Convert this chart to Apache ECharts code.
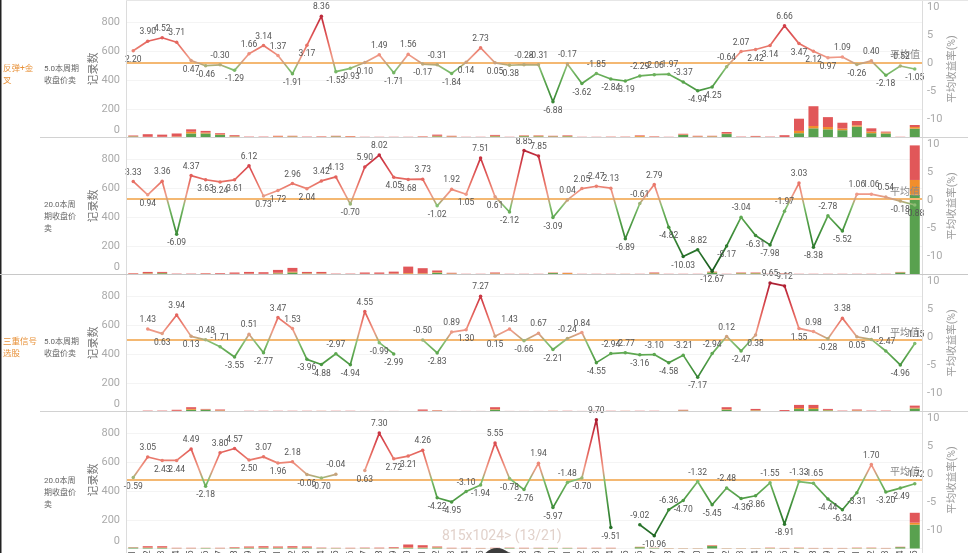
<!DOCTYPE html>
<html><head><meta charset="utf-8">
<script src="https://cdn.jsdelivr.net/npm/echarts@6/dist/echarts.min.js"></script>
<style>html,body{margin:0;padding:0;background:#fff}#c{width:968px;height:553px}</style>
</head><body><div id="c"></div>
<script>
const categories = ['W01','W02','W03','W04','W05','W06','W07','W08','W09','W10','W11','W12','W13','W14','W15','W16','W17','W18','W19','W20','W21','W22','W23','W24','W25','W26','W27','W28','W29','W30','W31','W32','W33','W34','W35','W36','W37','W38','W39','W40','W41','W42','W43','W44','W45','W46','W47','W48','W49','W50','W51','W52','W53','W54','W55'];

const groupLabels = ['反弹+金\n叉', '三重信号\n选股'];
const rowLabels = ['5.0本周期\n收盘价卖', '20.0本周\n期收盘价\n卖', '5.0本周期\n收盘价卖', '20.0本周\n期收盘价\n卖'];
const leftTicks = [0, 200, 400, 600, 800];
const rightTicks = [-10, -5, 0, 5, 10];

const ret1 = [2.20,3.90,4.52,3.71,0.47,-0.46,-0.30,-1.29,1.66,3.14, 1.37,-1.91,3.17,8.36,-1.53,-0.93,0.10,1.49,-1.71,1.56, -0.17,-0.31,-1.84,0.14,2.73,0.05,-0.38,-0.28,-0.31,-6.88, -0.17,-3.62,-1.85,-2.84,-3.19,-2.29,-2.06,-1.97,-3.37,-4.94, -4.25,-0.64,2.07,2.42,3.14,6.66,3.47,2.12,0.97,1.09, -0.26,0.40,-2.18,-0.52,-1.05];
const ret2 = [3.33,0.94,3.36,-6.09,4.37,3.63,3.24,3.61,6.12,0.73, 1.72,2.96,2.04,3.42,4.13,-0.70,5.90,8.02,4.05,3.68, 3.73,-1.02,1.92,1.05,7.51,0.61,-2.12,8.85,7.85,-3.09, 0.04,2.05,2.47,2.13,-6.89,-0.61,2.79,-4.82,-10.03,-8.82, -12.67,-8.17,-3.04,-6.31,-7.98,-1.97,3.03,-8.38,-2.78,-5.52, 1.06,1.06,0.54,-0.18,-0.88];
const ret3 = [null,1.43,0.63,3.94,0.13,-0.48,-1.71,-3.55,0.51,-2.77, 3.47,1.53,-3.96,-4.88,-2.97,-4.94,4.55,-0.99,-2.99,null, -0.50,-2.83,0.89,1.30,7.27,0.15,1.43,-0.66,0.67,-2.21, -0.24,0.84,-4.55,-2.94,-2.77,-3.16,-3.10,-4.58,-3.21,-7.17, -2.94,0.12,-2.47,0.38,9.65,9.12,1.55,0.98,-0.28,3.38, 0.05,-0.41,-2.47,-4.96,-1.15];
const ret4 = [-0.59,3.05,2.43,2.44,4.49,-2.18,3.80,4.57,2.50,3.07, 1.96,2.18,-0.06,-0.70,-0.04,null,0.63,7.30,2.72,3.21, 4.26,-4.22,-4.95,-3.10,-1.94,5.55,-0.78,-2.76,1.94,-5.97, -1.48,-0.70,9.70,-9.51,null,-9.02,-10.96,-6.36,-4.70,-1.32, -5.45,-2.48,-4.36,-3.86,-1.55,-8.91,-1.33,-1.65,-4.44,-6.34, -3.31,1.70,-3.20,-2.49,-1.72];

const green1 = [7,3,3,4,28,28,18,6,1,1, 4,6,1,3,7,3,1,1,1,1, 2,8,5,1,1,8,1,9,8,7, 8,1,2,3,2,5,3,1,18,5, 6,24,1,4,1,2,30,64,57,51, 76,30,28,1,62];
const orange1 = [2,2,2,3,12,6,4,3,1,1, 4,3,1,2,2,4,1,1,1,1, 3,4,3,1,1,4,1,3,4,2, 3,2,1,1,2,6,2,1,3,3, 3,4,1,2,1,2,16,16,16,11, 9,11,7,1,11];
const red1 = [5,18,15,21,17,12,8,7,4,4, 4,3,4,3,3,3,3,3,3,3, 3,8,4,3,3,6,3,3,3,3, 4,2,2,2,2,4,3,3,5,4, 3,10,4,5,4,12,85,138,69,41, 30,23,6,3,14];

const green2 = [2,6,9,1,1,3,2,3,4,3, 8,14,6,5,1,2,3,3,4,5, 5,12,5,1,1,5,1,1,1,10, 4,1,1,2,3,1,6,2,2,2, 14,2,8,8,2,3,1,2,2,2, 1,2,1,14,556];
const orange2 = [3,3,2,1,1,2,2,2,2,2, 4,5,3,3,1,1,2,2,3,5, 4,4,3,1,1,3,1,1,1,2, 6,1,1,1,1,1,3,1,1,1, 3,1,3,3,1,2,1,1,1,1, 1,1,1,2,103];
const red2 = [4,9,7,4,4,4,5,9,12,11, 20,27,9,10,4,3,9,9,13,45, 35,12,4,3,3,6,3,3,3,2, 2,3,3,2,1,3,5,2,2,2, 3,2,3,3,2,3,3,2,2,2, 3,2,3,2,241];

const green3 = [0,1,1,3,12,12,5,0,1,1, 1,1,1,3,2,2,1,1,1,0, 3,4,1,1,1,12,1,1,1,3, 2,1,2,2,3,2,2,1,6,1, 1,12,1,6,1,2,17,17,8,2, 5,2,2,0,21];
const orange3 = [0,1,1,2,6,2,3,0,1,1, 1,1,1,1,1,1,1,1,1,0, 2,2,1,1,1,4,1,1,1,1, 1,1,1,1,1,1,1,1,2,1, 1,4,1,3,1,1,7,7,3,1, 3,1,1,0,5];
const red3 = [0,4,4,7,12,4,6,0,3,3, 3,3,3,1,2,2,2,2,2,0, 9,3,2,2,2,14,2,2,2,1, 2,2,2,2,1,2,2,1,4,1, 1,14,1,9,1,7,22,22,7,3, 6,3,3,0,15];

const green4 = [6,4,4,1,1,3,1,3,4,4, 4,4,4,2,2,1,2,1,2,4, 4,6,1,1,1,1,3,1,2,3, 3,1,1,1,0,9,3,1,1,1, 17,1,1,1,2,1,2,1,1,1, 2,2,1,9,166];
const orange4 = [1,3,3,1,1,1,1,2,3,3, 3,3,3,1,1,1,1,1,2,4, 3,3,1,1,1,1,1,1,1,1, 1,1,1,1,0,2,1,1,1,1, 3,1,1,1,2,1,2,1,1,1, 2,2,1,1,14];
const red4 = [2,9,9,3,3,1,3,4,7,9, 7,9,7,3,2,3,3,4,5,20, 16,5,3,3,2,3,2,3,2,1, 1,3,3,3,0,1,1,1,1,1, 3,1,1,1,2,2,2,2,2,2, 2,2,2,2,69];

const panels = [
  {ret: ret1, g: green1, o: orange1, r: red1},
  {ret: ret2, g: green2, o: orange2, r: red2},
  {ret: ret3, g: green3, o: orange3, r: red3},
  {ret: ret4, g: green4, o: orange4, r: red4}
];

const lineColors = ['#1b5e20','#206624','#256e28','#2b762d','#317e31','#388636','#408e3b','#489641','#529e48','#5ea851','#6cb05c','#84c073','#c9a27c','#f09a88','#ec8676','#e87468','#e4645d','#de5556','#d6464d','#cd3a45','#c22e3e','#b52537','#a51e31','#951a2d','#851629'];

const FONT = 'Roboto, "Noto Sans CJK SC", sans-serif';
const tops = [0.5, 137.5, 274.5, 411.5];
const H = 137;

function labelPos(arr, i) {
  const v = arr[i];
  const nb = [];
  if (i > 0 && arr[i-1] != null) nb.push(arr[i-1]);
  if (i < arr.length - 1 && arr[i+1] != null) nb.push(arr[i+1]);
  if (!nb.length) return 'top';
  const m = nb.reduce((a, b) => a + b, 0) / nb.length;
  return v >= m ? 'top' : 'bottom';
}

const grid = [], xAxis = [], yAxis = [], series = [], lineIdx = [];
panels.forEach((p, k) => {
  grid.push({left: 126, right: 46, top: tops[k], height: H, containLabel: false, outerBoundsMode: 'none'});
  xAxis.push({
    type: 'category', gridIndex: k, data: categories, boundaryGap: true,
    axisLine: {show: false}, axisTick: {show: false},
    axisLabel: k === 3 ? {show: true, rotate: 90, interval: 0, fontSize: 9, color: '#555', margin: 2, fontFamily: FONT} : {show: false},
    splitLine: {show: false}
  });
  yAxis.push({
    type: 'value', gridIndex: k, position: 'left', min: 0, max: 955, interval: 200,
    name: '记录数', nameLocation: 'middle', nameGap: 26, nameRotate: 90, nameMoveOverlap: false,
    nameTextStyle: {color: '#777', fontSize: 11, fontFamily: FONT},
    axisLine: {show: false}, axisTick: {show: false},
    axisLabel: {
      color: '#aaa', fontSize: 11, margin: 6, fontFamily: FONT, showMaxLabel: false,
      formatter: v => (leftTicks.indexOf(v) < 0 ? '' : (v === 0 ? '{z|0}' : String(v))),
      rich: {z: {color: '#aaa', fontSize: 11, fontFamily: FONT, padding: [0, 0, 14, 0]}}
    },
    splitLine: {show: true, lineStyle: {color: '#f4f4f4', width: 1}}
  });
  yAxis.push({
    type: 'value', gridIndex: k, position: 'right', min: -13.25, max: 11.15,
    name: '平均收益率(%)', nameLocation: 'middle', nameGap: 25, nameRotate: 90, nameMoveOverlap: false,
    nameTextStyle: {color: '#999', fontSize: 10.5, fontFamily: FONT},
    axisLine: {show: false}, axisTick: {show: false},
    axisLabel: {color: '#aaa', fontSize: 11, margin: 5, fontFamily: FONT, customValues: rightTicks},
    splitLine: {show: false}
  });
  const stack = 'cnt' + k;
  [['g', '#59a14f'], ['o', '#f28e2b'], ['r', '#e15759']].forEach(([key, col]) => {
    series.push({
      type: 'bar', xAxisIndex: k, yAxisIndex: 2 * k, stack: stack, data: p[key],
      barWidth: 10, itemStyle: {color: col}, silent: true, z: 2
    });
  });
  lineIdx.push(series.length);
  series.push({
    type: 'line', xAxisIndex: k, yAxisIndex: 2 * k + 1, z: 4,
    data: p.ret.map((v, i) => v == null ? '-' : {value: v, label: {position: labelPos(p.ret, i)}}),
    connectNulls: false, symbol: 'circle', symbolSize: 3.5, showSymbol: true,
    lineStyle: {width: 1.7},
    label: {show: true, color: '#555', fontSize: 8.5, distance: 3, fontFamily: FONT,
      formatter: q => Number(q.value).toFixed(2)},
    markLine: {
      silent: true, symbol: 'none', data: [{type: 'average'}], z: 3,
      lineStyle: {color: '#f4b872', width: 1.8, type: 'solid'},
      label: {formatter: '平均值', position: 'insideEndTop', color: '#8a8a8a', fontSize: 10, fontFamily: FONT, distance: 2}
    },
    silent: true
  });
});

const graphic = [
  {type: 'line', z: 100, shape: {x1: 0.75, y1: 0, x2: 0.75, y2: 553}, style: {stroke: '#222', lineWidth: 1.5}},
  {type: 'line', z: 100, shape: {x1: 126.5, y1: 0, x2: 126.5, y2: 553}, style: {stroke: '#dcdcdc', lineWidth: 1}},
  {type: 'line', z: 100, shape: {x1: 922.5, y1: 0, x2: 922.5, y2: 553}, style: {stroke: '#dcdcdc', lineWidth: 1}},
  {type: 'line', z: 100, shape: {x1: 126, y1: 0.5, x2: 968, y2: 0.5}, style: {stroke: '#e6e6e6', lineWidth: 1}},
  {type: 'line', z: 100, shape: {x1: 40, y1: 137.5, x2: 968, y2: 137.5}, style: {stroke: '#d2d2d2', lineWidth: 1}},
  {type: 'line', z: 100, shape: {x1: 0, y1: 274.5, x2: 968, y2: 274.5}, style: {stroke: '#c8c8c8', lineWidth: 1}},
  {type: 'line', z: 100, shape: {x1: 40, y1: 411.5, x2: 968, y2: 411.5}, style: {stroke: '#d2d2d2', lineWidth: 1}},
  {type: 'text', z: 100, x: 3, y: 63, style: {text: groupLabels[0], fill: '#e8923a', fontSize: 8.5, fontFamily: FONT, lineHeight: 12, verticalAlign: 'top'}},
  {type: 'text', z: 100, x: 3, y: 336, style: {text: groupLabels[1], fill: '#e8923a', fontSize: 8.5, fontFamily: FONT, lineHeight: 12, verticalAlign: 'top'}},
  {type: 'text', z: 100, x: 44, y: 63, style: {text: rowLabels[0], fill: '#666', fontSize: 8, fontFamily: FONT, lineHeight: 12, verticalAlign: 'top'}},
  {type: 'text', z: 100, x: 44, y: 199, style: {text: rowLabels[1], fill: '#666', fontSize: 8, fontFamily: FONT, lineHeight: 12, verticalAlign: 'top'}},
  {type: 'text', z: 100, x: 44, y: 336, style: {text: rowLabels[2], fill: '#666', fontSize: 8, fontFamily: FONT, lineHeight: 12, verticalAlign: 'top'}},
  {type: 'text', z: 100, x: 44, y: 475, style: {text: rowLabels[3], fill: '#666', fontSize: 8, fontFamily: FONT, lineHeight: 12, verticalAlign: 'top'}},
  {type: 'text', z: 100, x: 442, y: 529, style: {text: '815x1024> (13/21)', fill: '#e2d2cb', fontSize: 14, fontFamily: FONT, verticalAlign: 'top'}},
  {type: 'circle', z: 100, shape: {cx: 497, cy: 564, r: 16}, style: {fill: '#3c3c3c'}}
];

const chart = echarts.init(document.getElementById('c'), null, {renderer: 'canvas'});
chart.setOption({
  animation: false,
  backgroundColor: '#fff',
  textStyle: {fontFamily: FONT},
  grid, xAxis, yAxis, series, graphic,
  visualMap: {
    type: 'continuous', show: false, seriesIndex: lineIdx, dimension: 1,
    min: -12, max: 12, inRange: {color: lineColors}
  }
});
</script></body></html>
